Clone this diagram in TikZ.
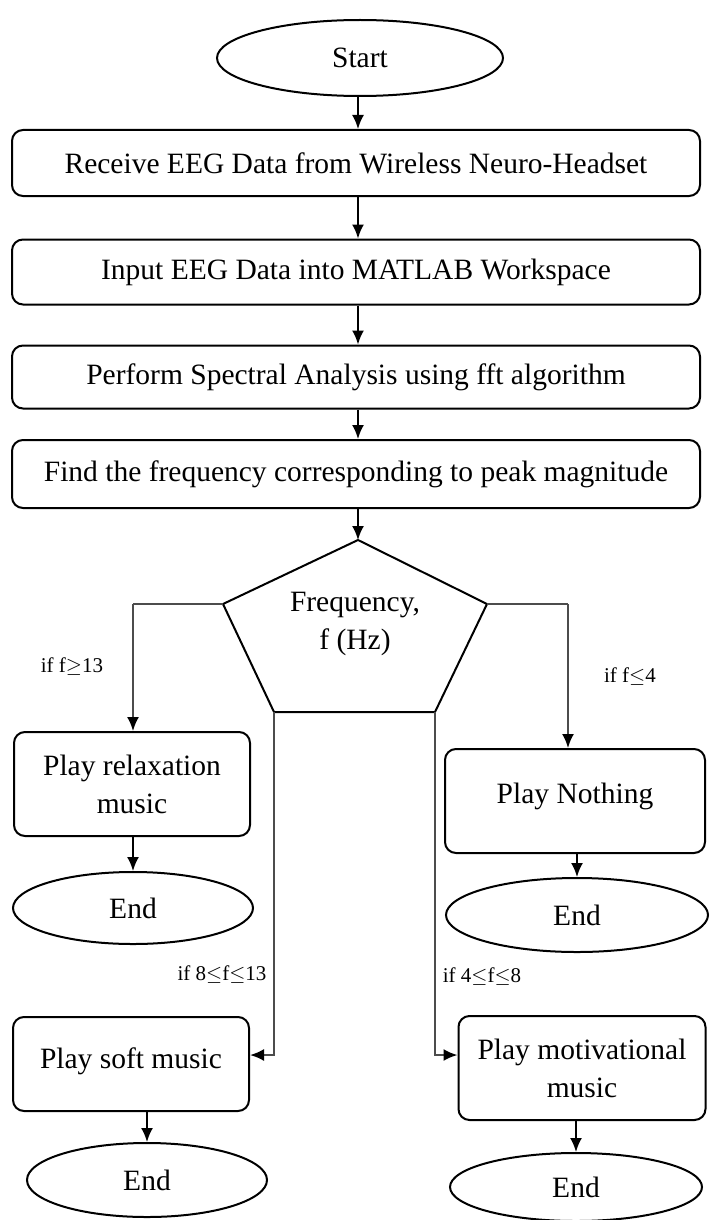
\documentclass[tikz,border=0pt]{standalone}
\usepackage{fontspec}
\setmainfont{Liberation Serif}
\usetikzlibrary{shapes.geometric,arrows.meta}
\begin{document}
\begin{tikzpicture}[x=1pt,y=-1pt,
  box/.style={draw,line width=2pt,rounded corners=11pt,inner sep=0pt,align=center,font=\fontsize{29.5}{38}\selectfont},
  term/.style={draw,ellipse,line width=2pt,inner sep=0pt,font=\fontsize{29.5}{34}\selectfont},
  lbl/.style={font=\fontsize{21}{24}\selectfont,inner sep=0pt},
  tip/.style={-{Latex[length=14pt,width=12pt,color=black]}},
  arr/.style={line width=2pt,tip},
  conn/.style={line width=2pt,black!70}]
\useasboundingbox (0,0) rectangle (711,1220);
\node[term,minimum width=286pt,minimum height=76pt] (start) at (360,58) {Start};
\node[box,minimum width=688pt,minimum height=66pt] (b1) at (356,163) {Receive EEG Data from Wireless Neuro-Headset};
\node[box,minimum width=688pt,minimum height=65pt] (b2) at (356,272) {Input EEG Data into MATLAB Workspace};
\node[box,minimum width=688pt,minimum height=63pt] (b3) at (356,377) {Perform Spectral Analysis using fft algorithm};
\node[box,minimum width=688pt,minimum height=68pt] (b4) at (356,474) {Find the frequency corresponding to peak magnitude};
\coordinate (pt) at (358,540);
\coordinate (pul) at (223,604);
\coordinate (pur) at (487,604);
\coordinate (pll) at (274,712);
\coordinate (plr) at (435,712);
\draw[line width=2pt] (pt) -- (pur) -- (plr) -- (pll) -- (pul) -- cycle;
\node[align=center,font=\fontsize{29.5}{38}\selectfont,inner sep=0pt] (ptext) at (355,624) {Frequency,\\f (Hz)};
\node[box,minimum width=236pt,minimum height=104pt] (relax) at (132,784) {Play relaxation\\music};
\node[term,minimum width=240pt,minimum height=72pt] (e1) at (133,908) {End};
\node[box,minimum width=260pt,minimum height=104pt] (nothing) at (575,801) {\raisebox{16pt}{Play Nothing}};
\node[term,minimum width=262pt,minimum height=74pt] (e2) at (577,915) {End};
\node[box,minimum width=236pt,minimum height=94pt] (soft) at (131,1064) {\raisebox{11pt}{Play soft music}};
\node[term,minimum width=240pt,minimum height=74pt] (e3) at (147,1180) {End};
\node[box,minimum width=247pt,minimum height=104pt] (motiv) at (582,1068) {Play motivational\\music};
\node[term,minimum width=252pt,minimum height=68pt] (e4) at (576,1187) {End};
\draw[arr] (start.south -| 358,0) -- (b1.north -| 358,0);
\draw[arr] (b1.south -| 358,0) -- (b2.north -| 358,0);
\draw[arr] (b2.south -| 358,0) -- (b3.north -| 358,0);
\draw[arr] (b3.south -| 358,0) -- (b4.north -| 358,0);
\draw[arr] (b4.south -| pt) -- (pt);
\draw[conn] (pul) -- (133,604) coordinate (lc);
\draw[conn,tip] (lc) -- (lc |- relax.north);
\draw[conn] (pur) -- (568,604) coordinate (rc);
\draw[conn,tip] (rc) -- (rc |- nothing.north);
\coordinate (sa) at (0,1055);
\draw[conn,tip] (pll) |- (soft.east |- sa);
\draw[conn,tip] (plr) |- (motiv.west |- sa);
\draw[arr] (relax.south -| e1) -- (e1);
\draw[arr] (nothing.south -| e2) -- (e2);
\draw[arr] (soft.south -| e3) -- (e3);
\draw[arr] (motiv.south -| e4) -- (e4);
\node[lbl] (l1) at (72,667) {if f$\geq$13};
\node[lbl] (l2) at (630,677) {if f$\leq$4};
\node[lbl] (l3) at (222,975) {if 8$\leq$f$\leq$13};
\node[lbl] (l4) at (482,977) {if 4$\leq$f$\leq$8};
\end{tikzpicture}
\end{document}
